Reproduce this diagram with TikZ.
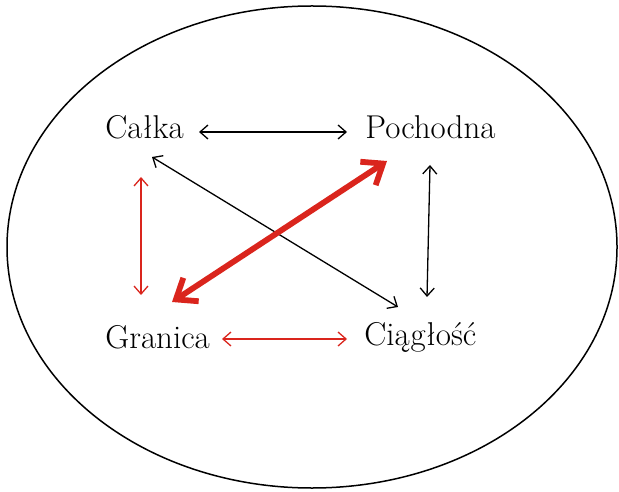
\documentclass[tikz,border=0pt]{standalone}
\usetikzlibrary{arrows.meta, calc}

\definecolor{cred}{RGB}{218,37,29}

\begin{document}
\begin{tikzpicture}[x=0.5pt, y=-0.5pt,
    >={Straight Barb[length=4pt,width=7pt]},
    term/.style={inner sep=0pt, anchor=base west, font=\fontsize{16.5}{19}\selectfont},
    link/.style={<->, line width=0.65pt},
    redlink/.style={<->, line width=0.65pt, cred},
    boldlink/.style={{Straight Barb[length=9pt,width=14pt]}-{Straight Barb[length=9pt,width=14pt]}, line width=2.9pt, cred}]

    \useasboundingbox (0,0) rectangle (619,491);

    % the surrounding ellipse
    \draw[line width=0.75pt] (312,247) ellipse [x radius=305, y radius=241];

    % -------------------------------------------------------------
    % the four terms
    % -------------------------------------------------------------
    \node[term] (calka) at (105,139) {Całka};
    \node[term] (pochodna) at (365,139) {Pochodna};
    \node[term] (granica) at (105,348) {Granica};
    \node[term] (ciaglosc) at (364,345) {Ciągłość};

    % black links
    \draw[link] ($(calka.base west)+(94,-7)$) -- ($(pochodna.base west)+(-18,-7)$);
    \draw[link] ($(calka.base west)+(47,18)$) -- ($(ciaglosc.base west)+(34,-38)$);
    \draw[link] ($(pochodna.base west)+(65,26)$) -- ($(ciaglosc.base west)+(63,-48)$);

    % red links
    \draw[redlink] ($(calka.base west)+(36,38)$) -- ($(granica.base west)+(36,-53)$);
    \draw[redlink] ($(granica.base west)+(117,-9)$) -- ($(ciaglosc.base west)+(-17,-6)$);
    \draw[boldlink] ($(pochodna.base west)+(22,22)$) -- ($(granica.base west)+(67,-46)$);

\end{tikzpicture}
\end{document}
